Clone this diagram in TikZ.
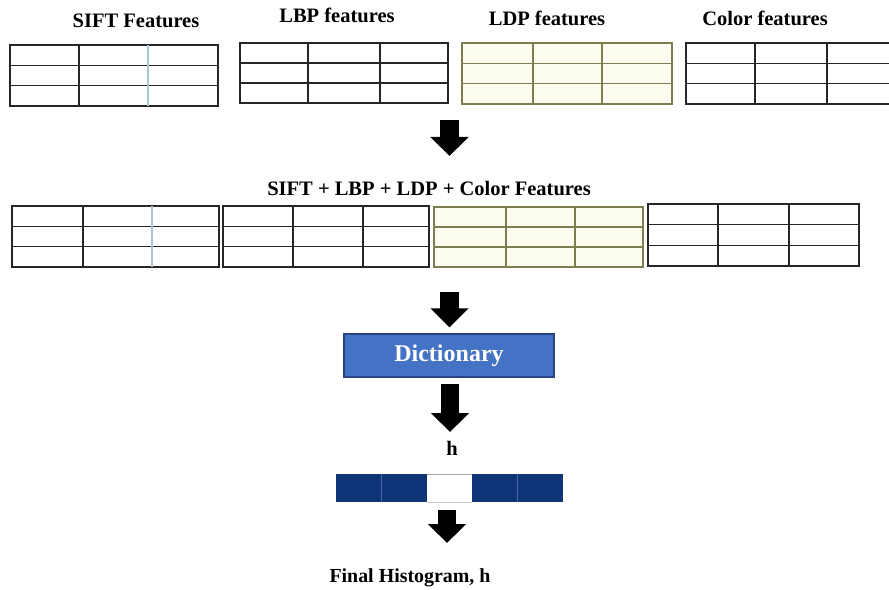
\documentclass[tikz,border=0pt]{standalone}
\usepackage{fontspec}
\setmainfont{Liberation Serif}
\usetikzlibrary{arrows.meta}

\definecolor{dictblue}{RGB}{68,114,196}
\definecolor{dictedge}{RGB}{38,68,128}
\definecolor{histblue}{RGB}{16,52,120}
\definecolor{histsep}{RGB}{70,100,160}
\definecolor{ldpfill}{RGB}{252,252,241}
\definecolor{ldpline}{RGB}{125,125,80}
\definecolor{softline}{RGB}{170,198,214}

% feature table: left, top, right, bottom, first column, second column
\newcommand{\featgrid}[6]{%
  \draw (#1,#2) rectangle (#3,#4);
  \draw (#1,{#2+(#4-#2)/3}) -- (#3,{#2+(#4-#2)/3});
  \draw (#1,{#2+2*(#4-#2)/3}) -- (#3,{#2+2*(#4-#2)/3});
  \draw (#5,#2) -- (#5,#4);
  \draw (#6,#2) -- (#6,#4);
}

\tikzset{
  featlabel/.style={font=\bfseries\fontsize{17.5}{20}\selectfont, inner sep=0pt, anchor=base},
  gridline/.style={line width=1.1pt, draw=black!85},
  ldpgrid/.style={line width=1.1pt, draw=ldpline, fill=ldpfill},
  dictbox/.style={draw=dictedge, line width=1pt, fill=dictblue, text=white,
    minimum width=6.3cm, minimum height=1.29cm, inner sep=0pt,
    font=\bfseries\fontsize{20.5}{23}\selectfont},
  bigarrow/.style={line width=0.55cm, -{Triangle[width=1.11cm,length=0.57cm]}},
}

\begin{document}
\begin{tikzpicture}[x=0.03cm, y=-0.03cm]
    \useasboundingbox (0,0) rectangle (889,590);

    % single feature vectors
    \node[featlabel] (siftlab) at (136,28) {SIFT Features};
    \node[featlabel] (lbplab) at (337,23) {LBP features};
    \node[featlabel] (ldplab) at (547,26) {LDP features};
    \node[featlabel] (colorlab) at (765,26) {Color features};

    \begin{scope}[gridline]
      \featgrid{10}{45}{218}{106}{79}{148}
      \draw[softline] (148,45) -- (148,106);
      \featgrid{240}{43}{448}{103}{308}{380}
      \featgrid{686}{43}{896}{104}{755}{827}
    \end{scope}
    \begin{scope}[ldpgrid]
      \fill[ldpfill] (462,43) rectangle (672,104);
      \featgrid{462}{43}{672}{104}{533}{602}
    \end{scope}

    \coordinate (a1top) at (449.5,120);
    \coordinate (a1tip) at (449.5,156);
    \draw[bigarrow] (a1top) -- (a1tip);

    % concatenated vector
    \node[featlabel] (alllab) at (429,195) {SIFT + LBP + LDP + Color Features};

    \begin{scope}[gridline]
      \featgrid{12}{206}{219}{267}{83}{152}
      \draw[softline] (152,206) -- (152,267);
      \featgrid{223}{206}{429}{267}{293}{363}
      \featgrid{648}{204}{859}{266}{718}{789}
    \end{scope}
    \begin{scope}[ldpgrid]
      \fill[ldpfill] (434,207) rectangle (643,267);
      \featgrid{434}{207}{643}{267}{506}{575}
    \end{scope}

    % dictionary and histogram
    \node[dictbox] (dict) at (449,355.5) {Dictionary};
    \coordinate (a2top) at (449.5,292);
    \draw[bigarrow, shorten >=0.18cm] (a2top) -- (dict.north -| a2top);

    \node[featlabel] (hlab) at (452,455) {h};
    \coordinate (a3tip) at (450,432);
    \draw[bigarrow, shorten <=0.18cm] (dict.south -| a3tip) -- (a3tip);

    \fill[histblue] (336,474) rectangle (427,502);
    \fill[histblue] (472,474) rectangle (563,502);
    \draw[histsep, line width=0.6pt] (381,474) -- (381,502);
    \draw[histsep, line width=0.6pt] (517,474) -- (517,502);
    \draw[black!35, line width=0.6pt] (427,474) -- (472,474);
    \draw[black!20, line width=0.6pt] (427,502) -- (472,502);

    \coordinate (a4top) at (447,510);
    \coordinate (a4tip) at (447,543);
    \draw[bigarrow] (a4top) -- (a4tip);

    \node[featlabel, font=\bfseries\fontsize{17}{20}\selectfont] (finallab) at (410,582) {Final Histogram, h};

\end{tikzpicture}
\end{document}
